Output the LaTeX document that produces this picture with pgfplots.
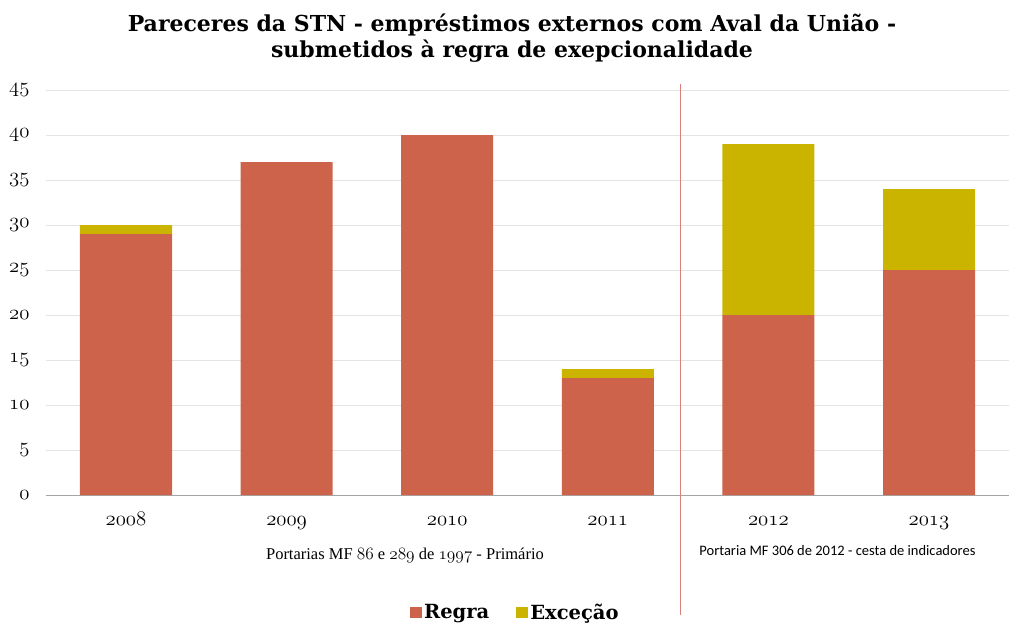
\documentclass[border=0pt]{standalone}
\usepackage{fontspec}
\setmainfont{DejaVu Serif}
\newfontfamily\libser{Liberation Serif}
\newfontfamily\carlito{Carlito}
\usepackage{pgfplots}
\pgfplotsset{compat=1.18}
\definecolor{regra}{RGB}{205,99,74}
\definecolor{exc}{RGB}{203,180,0}
\definecolor{gridc}{RGB}{228,228,228}
\definecolor{axc}{RGB}{165,165,165}
\definecolor{vline}{RGB}{214,130,120}
\newcommand\osf[1]{\legacyoldstylenums{#1}}
\begin{document}
\begin{tikzpicture}
\useasboundingbox (0,0) rectangle (1024pt,638pt);
\node[font=\bfseries\fontsize{22}{26}\selectfont, anchor=base] at (512pt,606pt) {Pareceres da STN - empréstimos externos com Aval da União -};
\node[font=\bfseries\fontsize{22}{26}\selectfont, anchor=base] at (512pt,580pt) {submetidos à regra de exepcionalidade};
\begin{axis}[
  at={(45.7pt,143pt)}, anchor=south west,
  scale only axis, width=963.6pt, height=405pt,
  xmin=-0.5, xmax=5.5, ymin=0, ymax=45,
  ybar stacked, bar width=92pt,
  clip=false,
  axis lines*=left, axis line style={-},
  y axis line style={draw=none},
  x axis line style={draw=axc, line width=0.8pt},
  major tick length=0pt, tick style={draw=none},
  ymajorgrids, grid style={draw=gridc, line width=0.8pt},
  ytick={0,5,...,45},
  yticklabel={\osf{\pgfmathprintnumber[assume math mode=true]{\tick}}},
  yticklabel style={anchor=east, inner sep=0pt, xshift=-16pt, font=\fontsize{20.5}{20}\selectfont},
  xtick={0,1,2,3,4,5},
  xticklabels={\osf{2008},\osf{2009},\osf{2010},\osf{2011},\osf{2012},\osf{2013}},
  xticklabel style={anchor=base, inner sep=0pt, yshift=-30pt, font=\fontsize{21}{21}\selectfont},
  legend columns=2,
  legend style={at={(0.4874,-0.289)}, anchor=center, draw=none, fill=none,
    font=\bfseries\fontsize{19.5}{19.5}\selectfont,
    /tikz/every even column/.append style={column sep=24pt},
    nodes={inner sep=2.5pt}},
  legend image code/.code={\fill[#1] (0pt,-5.5pt) rectangle (12pt,5.5pt);},
]
\addplot[fill=regra, draw=none] coordinates {(0,29) (1,37) (2,40) (3,13) (4,20) (5,25)};
\addplot[fill=exc, draw=none] coordinates {(0,1) (1,0) (2,0) (3,1) (4,19) (5,9)};
\legend{\strut Regra, \strut Exceção}
\draw[vline, line width=0.8pt] (axis cs:3.45,45.67) -- (axis cs:3.45,-13.3);
\node[anchor=base, inner sep=0pt, font=\libser\fontsize{16.5}{16}\selectfont] at (axis cs:1.737,-7.22) {Portarias MF \osf{86} e \osf{289} de \osf{1997} - Primário};
\node[anchor=base, inner sep=0pt, font=\carlito\fontsize{14.5}{14}\selectfont] at (axis cs:4.43,-6.67) {Portaria MF 306 de 2012 - cesta de indicadores};
\end{axis}
\end{tikzpicture}
\end{document}
